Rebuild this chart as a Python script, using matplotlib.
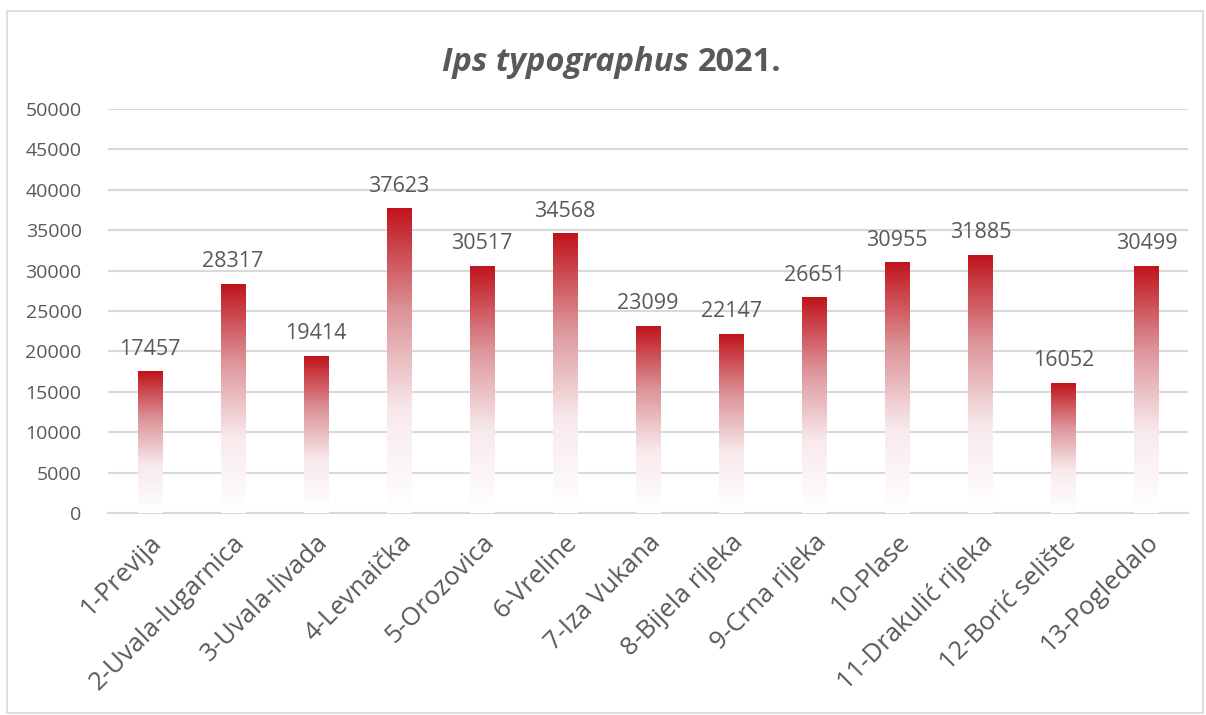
"""
Ips typographus 2021 - bar chart with vertical red-to-white gradient bars.
"""

import numpy as np
import matplotlib
matplotlib.use("Agg")
import matplotlib.pyplot as plt
from matplotlib.colors import LinearSegmentedColormap
from matplotlib.patches import Rectangle

# data
sites = [
    "1-Previja", "2-Uvala-lugarnica", "3-Uvala-livada", "4-Levnaička",
    "5-Orozovica", "6-Vreline", "7-Iza Vukana", "8-Bijela rijeka",
    "9-Crna rijeka", "10-Plase", "11-Drakulić rijeka", "12-Borić selište",
    "13-Pogledalo",
]
counts = [17457, 28317, 19414, 37623, 30517, 34568, 23099, 22147,
          26651, 30955, 31885, 16052, 30499]
y_ticks = list(range(0, 50001, 5000))

TEXT = "#595959"
GRID = "#D9D9D9"
BAR_W = 0.29

plt.rcParams["font.family"] = ["Open Sans", "DejaVu Sans"]

grad = LinearSegmentedColormap.from_list(
    "red_fade", ["#FFFFFF", "#F8EAEC", "#DC9398", "#C0141C"])

fig = plt.figure(figsize=(12.06, 7.15), dpi=100)
ax = fig.add_axes([0.0896, 0.2825, 0.8955, 0.5651])

# vertical gradient per bar, relative to its own height
g = np.linspace(0, 1, 256).reshape(-1, 1)
for i, v in enumerate(counts):
    ax.imshow(g, cmap=grad, origin="lower", aspect="auto",
              extent=(i - BAR_W / 2, i + BAR_W / 2, 0, v), zorder=3,
              interpolation="bicubic")
    ax.text(i, v + 1500, str(v), ha="center", va="bottom",
            fontsize=15.5, color=TEXT, zorder=4)

ax.set_xlim(-0.5, len(sites) - 0.5)
ax.set_ylim(0, 50000)
ax.set_yticks(y_ticks)
ax.set_yticklabels([str(t) for t in y_ticks], fontsize=14, color=TEXT)
ax.set_xticks(range(len(sites)))
ax.set_xticklabels(sites, rotation=45, ha="right", va="top",
                   rotation_mode="anchor", fontsize=18.5, color=TEXT)
ax.tick_params(axis="both", length=0)
ax.tick_params(axis="y", pad=19)
ax.tick_params(axis="x", pad=12)

ax.grid(axis="y", color=GRID, linewidth=1.5, zorder=0)
for s in ["top", "right", "left"]:
    ax.spines[s].set_visible(False)
ax.spines["bottom"].set_color(GRID)
ax.spines["bottom"].set_linewidth(1.5)

# title: italic species name + plain year
fig.text(0.5715, 0.913, "Ips typographus", ha="right", va="center",
         fontsize=23.5, fontweight="bold", fontstyle="italic", color=TEXT)
fig.text(0.5785, 0.913, "2021.", ha="left", va="center",
         fontsize=23.5, fontweight="bold", color=TEXT)

# outer chart border
fig.patches.append(Rectangle((7 / 1206, 2 / 715), 1196 / 1206, 702 / 715,
                             transform=fig.transFigure, fill=False,
                             edgecolor=GRID, linewidth=1.2))

fig.savefig("out.png", dpi=100)
